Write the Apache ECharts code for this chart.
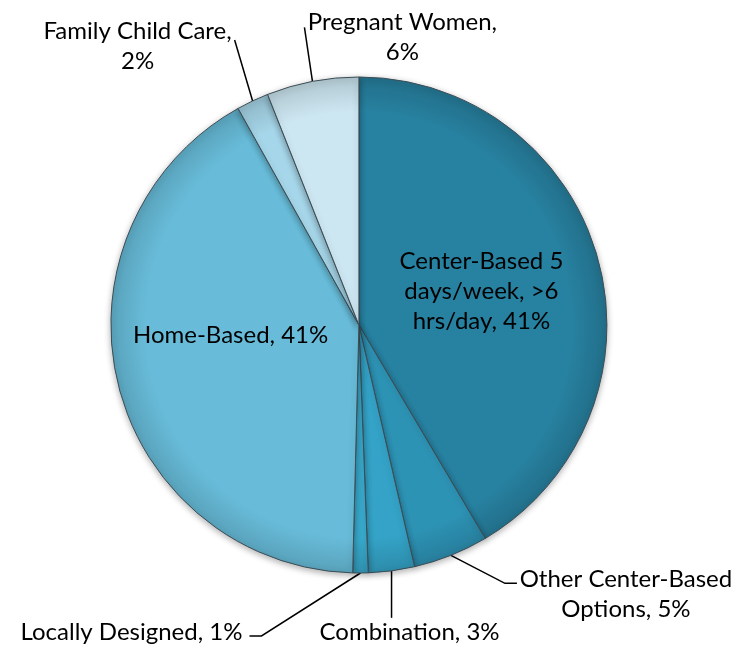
<!DOCTYPE html>
<html>
<head>
<meta charset="utf-8">
<script src="https://cdn.jsdelivr.net/npm/echarts@6/dist/echarts.min.js"></script>
<style>
html, body { margin: 0; padding: 0; background: #fff; }
#main { width: 737px; height: 650px; }
</style>
</head>
<body>
<div id="main"></div>
<script>
// slice names, clockwise from 12 o'clock ('\n' = where the label wraps)
var names = ['Center-Based 5\ndays/week, >6\nhrs/day', 'Other Center-Based\nOptions', 'Combination',
  'Locally Designed', 'Home-Based', 'Family Child Care', 'Pregnant Women'];
// shares
var values = [41.5, 4.9, 3.0, 1.0, 41.5, 2.1, 6.0];
// percentages as printed on the labels
var shownPct = [41, 5, 3, 1, 41, 2, 6];

var colors = ['#2781a0', '#2d93b5', '#34a3c7', '#38a9cc', '#68bcd9', '#a6d6e9', '#cde7f2'];
var insideIdx = [0, 4];
var wrapPct = [5, 6]; // percent goes to its own line

// where the outside labels sit, relative to the slice edge point
var spots = {
  1: { line: [[54, 28], [66, 28]], text: [175, 39], align: 'center' },
  2: { line: [[0, 47]], text: [18, 61], align: 'center' },
  3: { line: [[-99, 63], [-111, 63]], text: [-118, 59], align: 'right' },
  4: { dx: -5, dy: -20 },
  5: { line: [[-18, -61]], text: [-115, -55], align: 'center' },
  6: { line: [[-8, -54]], text: [90, -44], align: 'center' }
};

function shade(hex, f) {
  var n = parseInt(hex.slice(1), 16);
  var r = Math.round(((n >> 16) & 255) * f), g = Math.round(((n >> 8) & 255) * f), b = Math.round((n & 255) * f);
  return 'rgb(' + r + ',' + g + ',' + b + ')';
}

var chart = echarts.init(document.getElementById('main'));
var cx = chart.getWidth() * 0.487, cy = chart.getHeight() * 0.5, R = 248;

var data = names.map(function (n, i) {
  var fill = new echarts.graphic.RadialGradient(cx, cy, R, [
    { offset: 0, color: colors[i] },
    { offset: 0.86, color: colors[i] },
    { offset: 1, color: shade(colors[i], 0.86) }
  ], true);
  var item = { name: n, value: values[i], itemStyle: { color: fill } };
  if (insideIdx.indexOf(i) >= 0) {
    item.label = { position: 'inside' };
    item.labelLine = { show: false };
  }
  return item;
});

chart.setOption({
  backgroundColor: '#fff',
  animation: false,
  series: [{
    type: 'pie',
    center: ['48.7%', '50%'],
    radius: R,
    startAngle: 90,
    avoidLabelOverlap: false,
    data: data,
    itemStyle: {
      borderColor: '#3d4d55',
      borderWidth: 1,
      shadowBlur: 6,
      shadowColor: 'rgba(0,0,0,0.3)',
      shadowOffsetY: 2
    },
    label: {
      position: 'outside',
      color: '#000',
      fontFamily: 'Lato',
      fontSize: 24,
      lineHeight: 30,
      formatter: function (p) {
        var sep = wrapPct.indexOf(p.dataIndex) >= 0 ? ',\n' : ', ';
        return p.name + sep + shownPct[p.dataIndex] + '%';
      }
    },
    labelLine: {
      show: true,
      lineStyle: { color: '#000', width: 1.5 }
    },
    labelLayout: function (p) {
      var s = spots[p.dataIndex];
      if (!s) return {};
      if (s.dx != null) return { dx: s.dx, dy: s.dy };
      var a = p.labelLinePoints[0];
      var pts = [[a[0], a[1]]].concat(s.line.map(function (d) {
        return [a[0] + d[0], a[1] + d[1]];
      }));
      return {
        x: a[0] + s.text[0],
        y: a[1] + s.text[1],
        align: s.align,
        verticalAlign: 'middle',
        labelLinePoints: pts
      };
    }
  }]
});
</script>
</body>
</html>
